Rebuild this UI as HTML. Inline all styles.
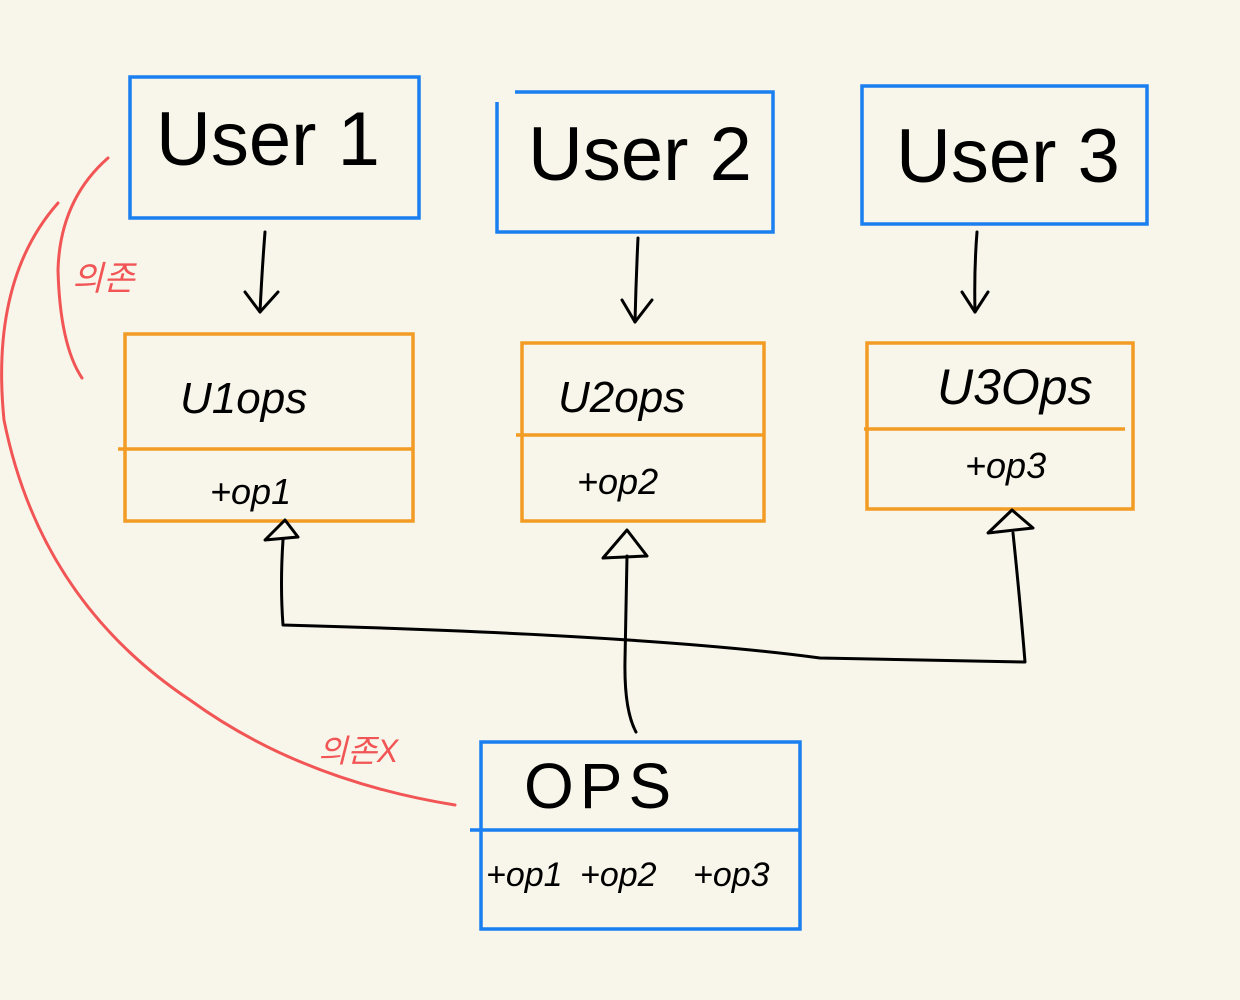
<!DOCTYPE html>
<html><head><meta charset="utf-8"><style>
html,body{margin:0;padding:0;background:#f8f6ea;}
svg{display:block}
text{font-family:"Liberation Sans","Noto Sans CJK KR",sans-serif;}
</style></head><body>
<svg width="1240" height="1000" viewBox="0 0 1240 1000">
<rect width="1240" height="1000" fill="#f8f6ea"/>
<g fill="none" stroke="#1a7ff0" stroke-width="3.5">
<rect x="130" y="77" width="289" height="141"/>
<path d="M515 92 H773 V232 H497 V102"/>
<rect x="862" y="86" width="285" height="138"/>
<rect x="481" y="742" width="319" height="187"/>
<path d="M470 830 H800"/>
</g>
<g fill="none" stroke="#f39c25" stroke-width="3.5">
<rect x="125" y="334" width="288" height="187"/>
<path d="M118 449 H413"/>
<rect x="522" y="343" width="242" height="178"/>
<path d="M516 435 H764"/>
<rect x="867" y="343" width="266" height="166"/>
<path d="M864 429 H1125"/>
</g>
<g fill="#000">
<text x="156" y="165" font-size="76">User 1</text>
<text x="528" y="180" font-size="76">User 2</text>
<text x="896" y="182" font-size="76">User 3</text>
<text x="180" y="413" font-size="44" font-style="italic">U1ops</text>
<text x="558" y="412" font-size="44" font-style="italic">U2ops</text>
<text x="937" y="404" font-size="50" font-style="italic">U3Ops</text>
<text x="210" y="504" font-size="36" font-style="italic">+op1</text>
<text x="577" y="494" font-size="36" font-style="italic">+op2</text>
<text x="965" y="478" font-size="36" font-style="italic">+op3</text>
<text x="524" y="808" font-size="64" letter-spacing="6">OPS</text>
<text x="486" y="886" font-size="34" font-style="italic">+op1</text>
<text x="580" y="886" font-size="34" font-style="italic">+op2</text>
<text x="693" y="886" font-size="34" font-style="italic">+op3</text>
</g>
<g fill="none" stroke="#000" stroke-width="3" stroke-linecap="round" stroke-linejoin="round">
<path d="M265 232 Q262 270 260 312"/><path d="M245 292 L260 312 L278 292"/>
<path d="M638 238 Q636 280 635 322"/><path d="M622 300 L635 322 L652 300"/>
<path d="M977 232 Q974 270 975 312"/><path d="M962 292 L975 312 L988 292"/>
<path d="M283 540 Q280 585 283 625 Q650 635 820 658 L1025 662 Q1020 600 1013 533"/>
<path d="M265 540 L285 520 L298 537 Z"/>
<path d="M988 533 L1012 510 L1033 528 Z"/>
<path d="M636 732 Q624 710 625 660 L627 556"/>
<path d="M603 558 L627 530 L647 556 Z"/>
</g>
<g fill="none" stroke="#f15555" stroke-width="3" stroke-linecap="round">
<path d="M108 158 Q60 200 58 270 Q60 345 82 378"/>
<path d="M58 203 Q-10 280 4 420 Q40 600 190 700 Q300 780 455 805"/>
</g>
<g fill="#f15555">
<text x="72" y="290" font-size="34" font-style="italic">의존</text>
<text x="318" y="762" font-size="32" font-style="italic">의존X</text>
</g>
</svg>
</body></html>
